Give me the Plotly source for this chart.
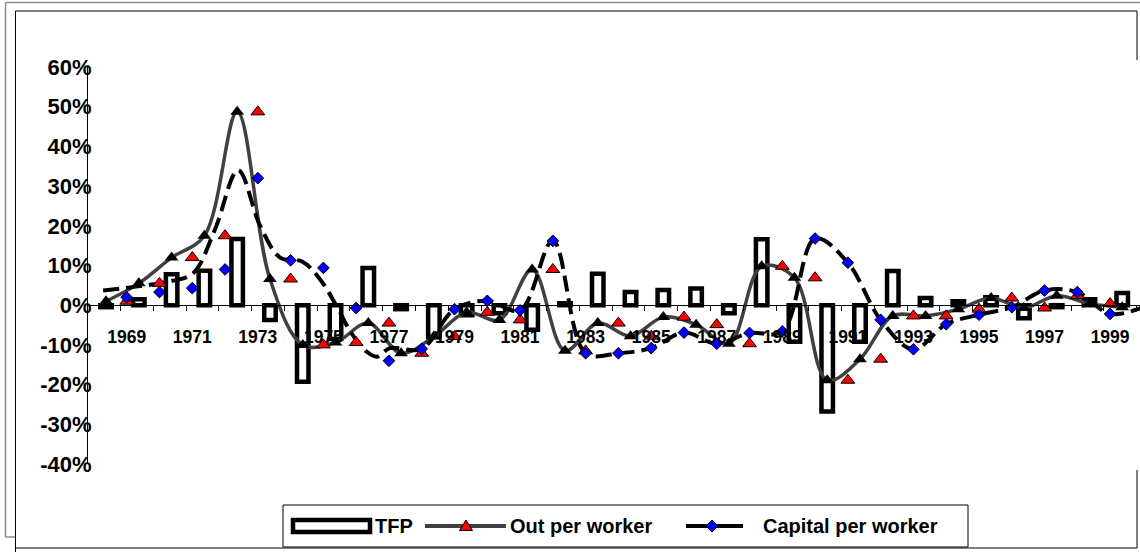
import plotly.graph_objects as go

# ---- data (percent) ----
tfp_years = list(range(1968, 2000))
tfp = [-0.5, 1.5, 7.8, 8.7, 16.7, -3.7, -19.3, -8.5, 9.4, -1.0, -8.0, -2.5,
       -2.0, -6.2, 0.5, 7.9, 3.3, 3.8, 4.2, -2.0, 16.6, -9.2, -26.8, -9.2,
       8.6, 1.8, 1.0, 2.0, -3.3, -0.5, 1.5, 3.1]

years = list(range(1969, 2001))
out_per_worker = [1.0, 5.5, 12.0, 17.5, 48.7, 6.6, -10.0, -9.4, -4.5, -12.1,
                  -7.9, -1.8, -3.7, 9.0, -11.5, -4.5, -7.8, -3.0, -4.9, -9.7,
                  9.8, 6.9, -18.9, -13.6, -2.7, -2.7, -1.0, 1.8, -0.7, 2.4,
                  0.4, -0.5]
capital_per_worker = [2.0, 3.3, 4.3, 9.0, 32.0, 11.3, 9.4, -0.7, -14.0, -11.0,
                      -1.0, 1.1, -1.3, 16.2, -12.1, -12.1, -10.8, -6.9, -9.7,
                      -7.0, -6.6, 16.8, 10.7, -3.7, -11.1, -4.8, -2.4, -0.5,
                      3.7, 3.3, -2.2, -0.5]

# smoothed capital-per-worker curve (knots in fractional years)
cap_curve_x = [1968.28, 1969.41, 1970.32, 1971.02, 1971.69, 1972.40, 1973.07,
               1973.68, 1974.35, 1974.90, 1975.42, 1975.85, 1976.32, 1976.63,
               1977.03] + list(range(1978, 2001))
cap_curve_y = [3.7, 4.8, 6.0, 8.0, 19.0, 34.0, 20.0, 12.0, 11.0, 6.5, -0.5,
               -7.0, -11.7, -13.0, -10.8] + capital_per_worker[9:]

tick_years = list(range(1969, 2000, 2))
tick_text = [str(y) for y in tick_years]
y_ticks = list(range(-40, 61, 10))
y_tick_text = [f"{v}%" for v in y_ticks]

legend_names = ["TFP", "Out per worker", "Capital per worker"]

# the bar / trend category slots sit slightly right of the labelled year
BAR_SHIFT = 0.37
TREND_SHIFT = -0.63

FONT = "Liberation Sans, Arial, sans-serif"
GRAY = "#404040"

fig = go.Figure()

fig.add_trace(go.Bar(
    x=[y + BAR_SHIFT for y in tfp_years], y=tfp, name=legend_names[0],
    width=0.35,
    marker=dict(color="white", line=dict(color="black", width=4.5)),
))

fig.add_trace(go.Scatter(
    x=[y + TREND_SHIFT for y in years], y=out_per_worker, mode="lines",
    line=dict(color=GRAY, width=3.5, shape="spline", smoothing=1.0),
))

fig.add_trace(go.Scatter(
    x=cap_curve_x, y=cap_curve_y, mode="lines",
    line=dict(color="black", width=4, shape="spline", smoothing=1.0,
              dash="16px,7px"),
))

fig.add_trace(go.Scatter(
    x=[y + TREND_SHIFT for y in years], y=out_per_worker, mode="markers",
    marker=dict(symbol="triangle-up", size=12, color="black"),
    cliponaxis=False,
))

fig.add_trace(go.Scatter(
    x=years, y=out_per_worker, mode="markers", name=legend_names[1],
    marker=dict(symbol="triangle-up", size=12, color="#ff0000",
                line=dict(color="black", width=1)),
    cliponaxis=False,
))

fig.add_trace(go.Scatter(
    x=years, y=capital_per_worker, mode="markers", name=legend_names[2],
    marker=dict(symbol="diamond", size=9, color="#0000ff",
                line=dict(color="black", width=1)),
    cliponaxis=False,
))


# pixel -> paper conversion for the 1052x397 plot area placed at (88, 67)
def px(x):
    return (x - 88) / 1052.0


def py(y):
    return (464 - y) / 397.0


def seg(x0, y0, x1, y1, color, width):
    return dict(type="line", xref="paper", yref="paper",
                x0=px(x0), y0=py(y0), x1=px(x1), y1=py(y1),
                line=dict(color=color, width=width), layer="above")


def rect(x0, y0, x1, y1, lw, color="black"):
    return dict(type="rect", xref="paper", yref="paper",
                x0=px(x0), y0=py(y0), x1=px(x1), y1=py(y1),
                line=dict(color=color, width=lw), fillcolor="white",
                layer="above")


def poly(points, fill):
    d = "M " + " L ".join(f"{px(x):.5f},{py(y):.5f}" for x, y in points) + " Z"
    return dict(type="path", xref="paper", yref="paper", path=d,
                fillcolor=fill, line=dict(color="black", width=1),
                layer="above")


shapes = [
    # outer and inner chart frames
    seg(5.5, 2.5, 5.5, 537, "#8c8c8c", 1.5),
    seg(5.5, 2.5, 1140, 2.5, "#8c8c8c", 1.5),
    seg(5.5, 537, 15.5, 537, "#8c8c8c", 1.5),
    seg(15.5, 11, 15.5, 552, "black", 1),
    seg(15.5, 11, 1137, 11, "black", 1),
    seg(1137, 11, 1137, 60, "black", 1),
    seg(1137, 470, 1137, 548, "black", 1),
    seg(15.5, 548, 1137, 548, "black", 1),
]

# legend box and keys
LY = 526
shapes += [
    rect(283, 505, 968, 547, 1),
    rect(293, LY - 6, 370, LY + 6, 4.5),
    seg(425, LY, 506, LY, GRAY, 4),
    poly([(459.5, LY + 4.5), (472.5, LY + 4.5), (466, LY - 6)], "#ff0000"),
    seg(686, LY, 743, LY, "black", 4),
    poly([(712, LY - 6), (718, LY), (712, LY + 6), (706, LY)], "#0000ff"),
]

legend_font = dict(family=FONT, size=20, color="black", weight="bold")
annotations = [
    dict(x=px(x0), y=py(LY), xref="paper", yref="paper", text=name,
         showarrow=False, xanchor="left", yanchor="middle", font=legend_font)
    for x0, name in zip([373, 508, 761], legend_names)
]

fig.update_layout(
    width=1140, height=552, autosize=False,
    margin=dict(l=88, r=0, t=67, b=88),
    paper_bgcolor="white", plot_bgcolor="white",
    font=dict(family=FONT, color="black", size=16, weight="bold"),
    showlegend=False,
    shapes=shapes,
    annotations=annotations,
    xaxis=dict(
        range=[1967.819, 1999.912], anchor="free", position=0.4,
        showline=True, linecolor="black", linewidth=1,
        tickmode="array", tickvals=tick_years, ticktext=tick_text,
        ticks="", showgrid=False, zeroline=False,
        tickfont=dict(family=FONT, size=17.5, color="black", weight="bold"),
        ticklabelstandoff=16,
        minor=dict(ticks="outside", ticklen=5, tickcolor="black",
                   tickwidth=1, tick0=1968.81, dtick=1, showgrid=False),
    ),
    yaxis=dict(
        range=[-40, 60], tickmode="array", tickvals=y_ticks,
        ticktext=y_tick_text, showline=True, linecolor="black", linewidth=1,
        ticks="", showgrid=False, zeroline=False,
        tickfont=dict(family=FONT, size=22, color="black", weight="bold"),
        ticklabelstandoff=-9,
    ),
)

fig.write_html("out.html")
